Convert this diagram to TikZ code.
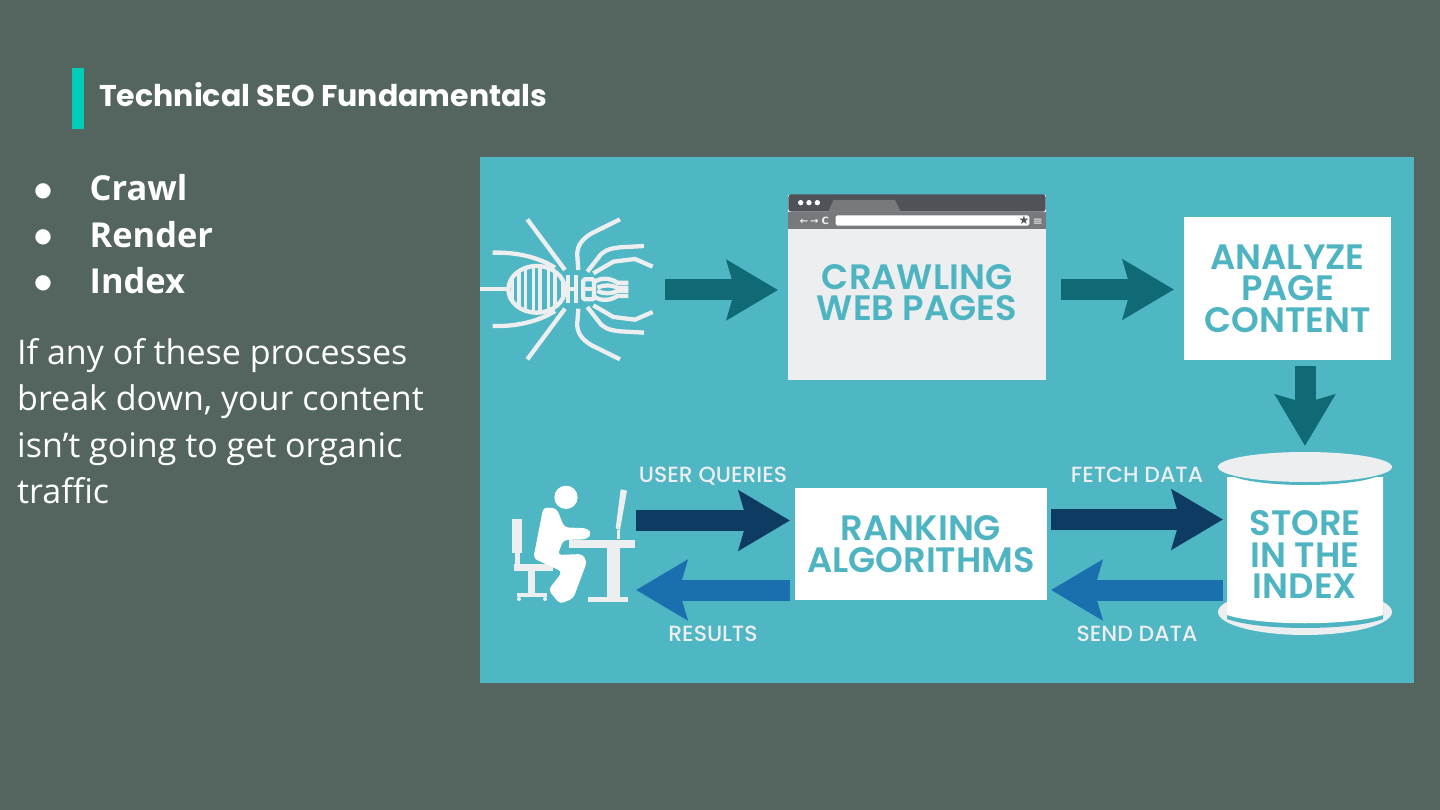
\documentclass[tikz,border=0pt]{standalone}
\usepackage{fontspec}
\usepackage{xcolor}
\usetikzlibrary{arrows.meta,positioning,calc}
\setmainfont{Open Sans}
\newfontfamily\titlefont{Poppins}
\newfontfamily\boxfont{Poppins}[UprightFont=* SemiBold]
\newfontfamily\tagfont{Poppins}[UprightFont=* Medium]
\newfontfamily\iconfont{DejaVu Sans}
\definecolor{seoSlate} {RGB}{ 83,101, 94}
\definecolor{seoMint}  {RGB}{  0,205,184}
\definecolor{seoPanel} {RGB}{ 79,182,195}
\definecolor{seoInk}   {RGB}{ 79,180,193}
\definecolor{seoPale}  {RGB}{236,238,240}
\definecolor{seoTeal}  {RGB}{ 15,106,117}
\definecolor{seoNavy}  {RGB}{ 13, 59, 98}
\definecolor{seoBlue}  {RGB}{ 26,111,174}
\definecolor{seoDark}  {RGB}{ 79, 82, 86}
\definecolor{seoGrey}  {RGB}{119,121,124}
\newcommand{\spiderlegs}{%
  \draw[legline] (142,210) -- (255,58);
  \draw[legline] (420,210) -- (335,168) .. controls (305,150) and (290,130) .. (292,100) -- (295,58);
  \draw[legline] (492,130) -- (420,126) .. controls (385,122) and (368,115) .. (355,95) -- (322,53);
  \draw[legline] (518,68) -- (465,91) -- (400,83) -- (340,48);
  \draw[legline] (38,110) .. controls (100,112) and (170,100) .. (225,65);
  \draw[legline] (343,22) .. controls (365,38) and (395,32) .. (412,20) -- (445,20);
  \draw[legline] (352,5) .. controls (370,14) and (395,14) .. (412,5) -- (445,5);
}
\begin{document}
\begin{tikzpicture}[
  x=1pt,y=-1pt,
  >={Stealth[length=51pt,width=59pt,inset=8pt]},
  bigarrow/.style={->,line width=21pt},
  whitebox/.style={fill=white,inner sep=0pt,outer sep=0pt},
  hidden/.style={inner sep=0pt,outer sep=0pt},
  boxtext/.style={font=\boxfont\fontsize{35.3}{31.5}\selectfont,text=seoInk,align=center},
  tagtext/.style={font=\tagfont\fontsize{22}{24}\selectfont,text=seoPale,text depth=0pt},
  bullettext/.style={font=\bfseries\fontsize{34.4}{40}\selectfont,text=white,anchor=base west},
  bulletdot/.style={font=\iconfont\fontsize{20}{24}\selectfont,text=white,anchor=base},
  legline/.style={draw=seoPale,line width=4.3pt},
  stripeline/.style={draw=seoPale,line width=3.4pt},
  seatpart/.style={fill=seoPale}
]
\useasboundingbox (0,0) rectangle (1440,810);
\fill[seoSlate] (0,0) rectangle (1440,810);

% heading and list
\fill[seoMint] (72,68) rectangle (84,129);
\node[font=\titlefont\bfseries\fontsize{30}{36}\selectfont,text=white,anchor=base west,inner sep=0pt] (title) at (99,107) {Technical SEO Fundamentals};
\node[bulletdot] (dot1) at (43,197) {●};
\node[bulletdot] (dot2) at (43,243) {●};
\node[bulletdot] (dot3) at (43,289) {●};
\node[bullettext,inner sep=0pt] (crawl) at (89.5,201) {Crawl};
\node[bullettext,inner sep=0pt] (render) at (89.5,248) {Render};
\node[bullettext,inner sep=0pt] (index) at (89.5,294) {Index};
\node[anchor=north west,inner sep=0pt,align=left,text=white,font=\fontsize{34}{46.4}\selectfont] (para) at (17,338)
  {If any of these processes\\break down, your content\\isn’t going to get organic\\traffic};

% picture panel
\fill[seoPanel] (480,157) rectangle (1414,683);

% boxes
\node[hidden,minimum width=176pt,minimum height=150pt] (spider) at (567,290) {};
\node[hidden,fill=seoPale,minimum width=258pt,minimum height=185pt] (browser) at (917,287.5) {};
\node[whitebox,minimum width=207pt,minimum height=143pt,boxtext] (analyze) at (1287.5,288.5) {ANALYZE\\PAGE\\CONTENT};
\node[whitebox,minimum width=252pt,minimum height=112pt,boxtext] (ranking) at (921,544) {RANKING\\ALGORITHMS};
\node[hidden,minimum width=124pt,minimum height=130pt] (user) at (574,545) {};

% browser chrome
\begin{scope}[shift={(780,190)},x=.3333pt,y=.3333pt,yscale=-1]
  \fill[seoDark,rounded corners=3pt] (25,65) -- (25,13) -- (797,13) -- (797,65) -- cycle;
  \fill[seoGrey] (25,65) rectangle (797,118);
  \fill[seoGrey] (145,65) -- (160,30) -- (345,30) -- (362,65) -- cycle;
  \fill[white] (62,38) circle (8) (87,38) circle (8) (112,38) circle (8);
  \fill[white,rounded corners=1.5pt] (167,76) rectangle (748,107);
  \fill[seoPale] (762,86) rectangle (784,89) (762,92) rectangle (784,95) (762,98) rectangle (784,101);
\end{scope}
\node[hidden,font=\iconfont\bfseries\fontsize{10}{10}\selectfont,text=seoPale] (nav) at (814.5,220.5) {←\,→\,\,C};
\node[hidden,font=\iconfont\fontsize{12}{12}\selectfont,text=seoDark] (star) at (1024,220) {★};
\node[boxtext] (crawltext) at (917,292.5) {CRAWLING\\WEB PAGES};

% spider
\begin{scope}[shift={(480,289.33)},x=.3333pt,y=.3333pt]
  \spiderlegs
  \begin{scope}[yscale=-1]
    \spiderlegs
  \end{scope}
  \draw[legline] (0,0) -- (85,0);
  \draw[legline] (170,0) ellipse [x radius=85,y radius=70];
  \begin{scope}
    \clip (170,0) ellipse [x radius=85,y radius=70];
    \foreach \sx in {97,117,137,160,180,205,225,248}
      \draw[stripeline] (\sx,-70) -- (\sx,70);
  \end{scope}
  \draw[legline] (265,-42) -- (265,42);
  \draw[legline] (288,-42) -- (288,42);
  \draw[legline] (265,0) -- (288,0);
  \draw[legline,fill=seoPanel,rounded corners=1.5pt] (310,-30) rectangle (342,30);
  \draw[legline] (310,0) -- (342,0);
\end{scope}

% user at the desk
\begin{scope}[shift={(505,480)},x=.3333pt,y=.3333pt,yscale=-1]
  \fill[seatpart] (22,118) rectangle (50,218);
  \fill[seatpart] (30,218) rectangle (45,255);
  \fill[seatpart] (28,252) rectangle (145,272);
  \fill[seatpart] (70,272) rectangle (90,340);
  \fill[seatpart] (35,340) rectangle (125,352);
  \fill[seatpart] (42,357) circle (6) (120,357) circle (6);
  \fill[seatpart] (192,180) rectangle (390,205);
  \fill[seatpart] (305,205) rectangle (345,350);
  \fill[seatpart] (248,350) rectangle (368,365);
  \fill[seatpart] (347,28) -- (366,32) -- (345,150) -- (332,145) -- cycle;
  \fill[seatpart] (335,150) rectangle (344,178);
  \fill[white] (183,52) circle (35);
  \fill[white,rounded corners=4pt] (115,82) -- (155,85) -- (178,142) -- (248,145) -- (260,162) -- (245,178) -- (175,180) -- (158,225) -- (232,222) -- (246,245) -- (205,355) -- (165,372) -- (130,330) -- (172,275) -- (85,235) -- cycle;
\end{scope}

% index drum
\fill[seoPale] (1305,612) ellipse [x radius=87,y radius=23];
\fill[seoInk] (1227,477) -- (1227,619) .. controls (1260,631) and (1350,631) .. (1383,619) -- (1383,477) -- cycle;
\node[hidden,minimum width=156pt,minimum height=145pt] (store) at (1305,549.5) {};
\fill[white] (1227,477) -- (1227,615) .. controls (1260,626) and (1350,626) .. (1383,615) -- (1383,477) -- cycle;
\fill[seoInk] (1305,470) ellipse [x radius=80,y radius=15];
\fill[seoPale] (1305,467) ellipse [x radius=87,y radius=15];
\node[boxtext] (storetext) at (1305,555) {STORE\\IN THE\\INDEX};

% connectors
\draw[bigarrow,seoTeal,shorten <=10pt,shorten >=10pt] (spider.east) -- (spider.east -| browser.west);
\draw[bigarrow,seoTeal,shorten <=15pt,shorten >=10pt] ([yshift=-1pt]browser.east |- analyze.west) -- ([yshift=-1pt]analyze.west);
\draw[bigarrow,seoTeal,shorten <=6pt,shorten >=31pt] (analyze.south -| store.north) -- (store.north);
\draw[bigarrow,seoNavy,shorten >=5pt] ([yshift=24.5pt]user.east) -- ([yshift=24.5pt]user.east -| ranking.west);
\draw[bigarrow,seoBlue,shorten <=5pt] ([yshift=-46pt]ranking.west) -- ([yshift=-46pt]ranking.west -| user.east);
\draw[bigarrow,seoNavy,shorten <=4pt,shorten >=4pt] ([yshift=24.5pt]ranking.east) -- ([yshift=24.5pt]ranking.east -| store.west);
\draw[bigarrow,seoBlue,shorten <=4pt,shorten >=4pt] ([yshift=-46pt]ranking.east -| store.west) -- ([yshift=-46pt]ranking.east);

% arrow captions
\node[tagtext] (queries) at (713,475) {USER QUERIES};
\node[tagtext] (results) at (713,634) {RESULTS};
\node[tagtext] (fetch) at (1137,475) {FETCH DATA};
\node[tagtext] (send) at (1137,634) {SEND DATA};
\end{tikzpicture}
\end{document}
